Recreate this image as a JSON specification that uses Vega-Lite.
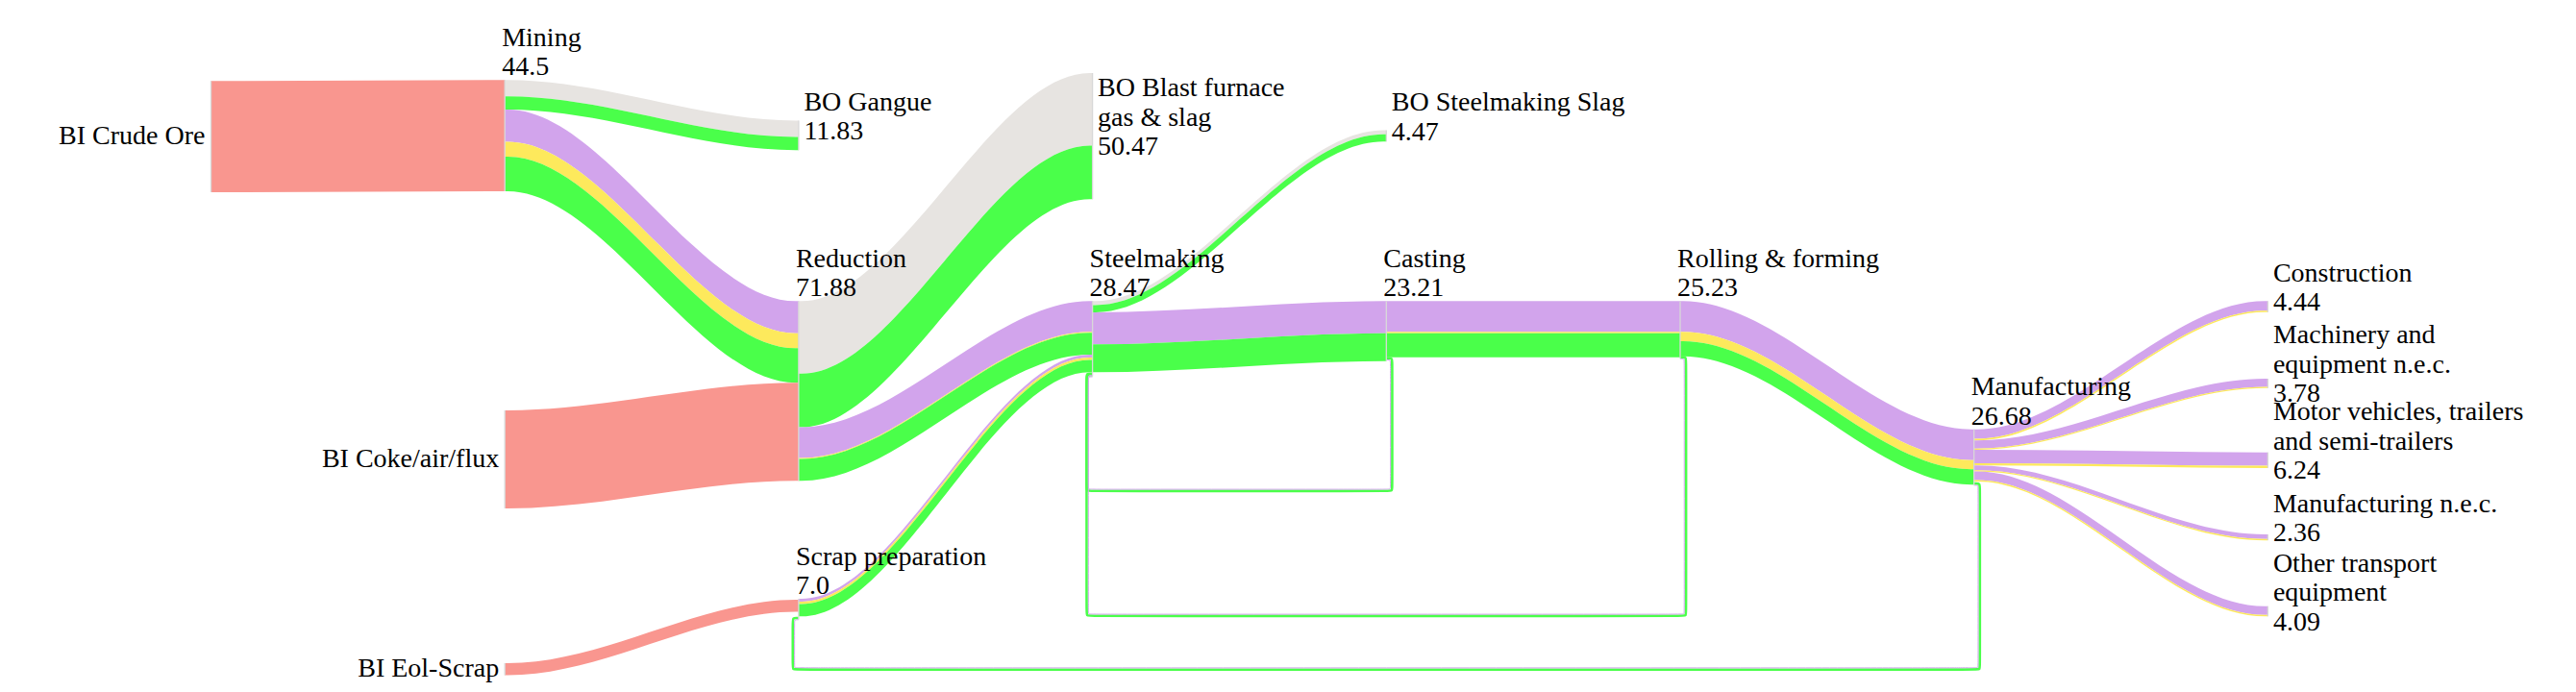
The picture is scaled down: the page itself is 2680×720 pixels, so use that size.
{
  "$schema": "https://vega.github.io/schema/vega-lite/v6.json",
  "width": 2680,
  "height": 720,
  "autosize": {"type": "fit", "contains": "padding"},
  "padding": 0,
  "background": "white",
  "config": {"view": {"stroke": null}},
  "datasets": {
    "links": [
      {"id": "L01", "source": "BI Crude Ore", "target": "Mining", "m": "input", "v": 44.5, "c0": 0, "c1": 1, "y0": 32.42, "y1": 32.04},
      {"id": "L02", "source": "Mining", "target": "BO Gangue", "m": "residue", "v": 6.5, "c0": 1, "c1": 2, "y0": 32.04, "y1": 48.27},
      {"id": "L03", "source": "Mining", "target": "BO Gangue", "m": "iron", "v": 5.33, "c0": 1, "c1": 2, "y0": 38.54, "y1": 54.77},
      {"id": "L04", "source": "Mining", "target": "Reduction", "m": "steel", "v": 12.85, "c0": 1, "c1": 2, "y0": 43.87, "y1": 120.5},
      {"id": "L05", "source": "Mining", "target": "Reduction", "m": "alloy", "v": 6.0, "c0": 1, "c1": 2, "y0": 56.72, "y1": 133.35},
      {"id": "L06", "source": "Mining", "target": "Reduction", "m": "iron", "v": 13.82, "c0": 1, "c1": 2, "y0": 62.72, "y1": 139.35},
      {"id": "L07", "source": "BI Coke/air/flux", "target": "Reduction", "m": "input", "v": 39.21, "c0": 1, "c1": 2, "y0": 164.23, "y1": 153.17},
      {"id": "L08", "source": "BI Eol-Scrap", "target": "Scrap preparation", "m": "input", "v": 4.8, "c0": 1, "c1": 2, "y0": 265.38, "y1": 240.0},
      {"id": "L09", "source": "Reduction", "target": "BO Blast furnace gas & slag", "m": "residue", "v": 29.04, "c0": 2, "c1": 3, "y0": 120.5, "y1": 29.23},
      {"id": "L10", "source": "Reduction", "target": "BO Blast furnace gas & slag", "m": "iron", "v": 21.43, "c0": 2, "c1": 3, "y0": 149.54, "y1": 58.27},
      {"id": "L11", "source": "Reduction", "target": "Steelmaking", "m": "steel", "v": 12.3, "c0": 2, "c1": 3, "y0": 170.97, "y1": 120.5},
      {"id": "L12", "source": "Reduction", "target": "Steelmaking", "m": "alloy", "v": 0.35, "c0": 2, "c1": 3, "y0": 183.27, "y1": 132.8},
      {"id": "L13", "source": "Reduction", "target": "Steelmaking", "m": "iron", "v": 8.76, "c0": 2, "c1": 3, "y0": 183.62, "y1": 133.15},
      {"id": "L14", "source": "Scrap preparation", "target": "Steelmaking", "m": "steel", "v": 1.15, "c0": 2, "c1": 3, "y0": 239.62, "y1": 141.91},
      {"id": "L15", "source": "Scrap preparation", "target": "Steelmaking", "m": "alloy", "v": 0.95, "c0": 2, "c1": 3, "y0": 240.77, "y1": 143.06},
      {"id": "L16", "source": "Scrap preparation", "target": "Steelmaking", "m": "iron", "v": 4.96, "c0": 2, "c1": 3, "y0": 241.72, "y1": 144.01},
      {"id": "L17", "source": "Steelmaking", "target": "BO Steelmaking Slag", "m": "residue", "v": 1.6, "c0": 3, "c1": 4, "y0": 120.5, "y1": 52.12},
      {"id": "L18", "source": "Steelmaking", "target": "BO Steelmaking Slag", "m": "iron", "v": 2.87, "c0": 3, "c1": 4, "y0": 122.1, "y1": 53.72},
      {"id": "L19", "source": "Steelmaking", "target": "Casting", "m": "steel", "v": 12.85, "c0": 3, "c1": 4, "y0": 124.97, "y1": 120.5},
      {"id": "L20", "source": "Steelmaking", "target": "Casting", "m": "iron", "v": 11.15, "c0": 3, "c1": 4, "y0": 137.82, "y1": 133.35},
      {"id": "L21", "source": "Casting", "target": "Rolling & forming", "m": "steel", "v": 12.3, "c0": 4, "c1": 5, "y0": 120.5, "y1": 120.5},
      {"id": "L22", "source": "Casting", "target": "Rolling & forming", "m": "alloy", "v": 0.6, "c0": 4, "c1": 5, "y0": 132.8, "y1": 132.8},
      {"id": "L23", "source": "Casting", "target": "Rolling & forming", "m": "iron", "v": 9.6, "c0": 4, "c1": 5, "y0": 133.4, "y1": 133.4},
      {"id": "L24", "source": "Rolling & forming", "target": "Manufacturing", "m": "steel", "v": 12.3, "c0": 5, "c1": 6, "y0": 120.5, "y1": 171.81},
      {"id": "L25", "source": "Rolling & forming", "target": "Manufacturing", "m": "alloy", "v": 3.7, "c0": 5, "c1": 6, "y0": 132.8, "y1": 184.11},
      {"id": "L26", "source": "Rolling & forming", "target": "Manufacturing", "m": "iron", "v": 6.1, "c0": 5, "c1": 6, "y0": 136.5, "y1": 187.81},
      {"id": "L27", "source": "Manufacturing", "target": "Construction", "m": "steel", "v": 3.79, "c0": 6, "c1": 7, "y0": 171.81, "y1": 120.5},
      {"id": "L28", "source": "Manufacturing", "target": "Construction", "m": "alloy", "v": 0.65, "c0": 6, "c1": 7, "y0": 175.6, "y1": 124.29},
      {"id": "L29", "source": "Manufacturing", "target": "Machinery and equipment n.e.c.", "m": "steel", "v": 3.23, "c0": 6, "c1": 7, "y0": 176.25, "y1": 151.54},
      {"id": "L30", "source": "Manufacturing", "target": "Machinery and equipment n.e.c.", "m": "alloy", "v": 0.55, "c0": 6, "c1": 7, "y0": 179.48, "y1": 154.77},
      {"id": "L31", "source": "Manufacturing", "target": "Motor vehicles, trailers and semi-trailers", "m": "steel", "v": 5.34, "c0": 6, "c1": 7, "y0": 180.03, "y1": 181.04},
      {"id": "L32", "source": "Manufacturing", "target": "Motor vehicles, trailers and semi-trailers", "m": "alloy", "v": 0.9, "c0": 6, "c1": 7, "y0": 185.37, "y1": 186.38},
      {"id": "L33", "source": "Manufacturing", "target": "Manufacturing n.e.c.", "m": "steel", "v": 1.86, "c0": 6, "c1": 7, "y0": 186.27, "y1": 213.85},
      {"id": "L34", "source": "Manufacturing", "target": "Manufacturing n.e.c.", "m": "alloy", "v": 0.5, "c0": 6, "c1": 7, "y0": 188.13, "y1": 215.71},
      {"id": "L35", "source": "Manufacturing", "target": "Other transport equipment", "m": "steel", "v": 3.49, "c0": 6, "c1": 7, "y0": 188.63, "y1": 242.58},
      {"id": "L36", "source": "Manufacturing", "target": "Other transport equipment", "m": "alloy", "v": 0.6, "c0": 6, "c1": 7, "y0": 192.12, "y1": 246.07}
    ],
    "loops": [
      {"id": "R1", "source": "Casting", "target": "Steelmaking", "c0": 4, "c1": 3, "y0": 143.35, "yb": 196.5, "y1": 149.5},
      {"id": "R2", "source": "Rolling & forming", "target": "Steelmaking", "c0": 5, "c1": 3, "y0": 142.95, "yb": 246.5, "y1": 150.1},
      {"id": "R3", "source": "Manufacturing", "target": "Scrap preparation", "c0": 6, "c1": 2, "y0": 193.5, "yb": 267.96, "y1": 247.3}
    ],
    "nodes": [
      {"name": "BI Crude Ore", "c": 0, "top": 32.42, "bot": 76.92},
      {"name": "Mining", "c": 1, "top": 32.04, "bot": 76.54},
      {"name": "BI Coke/air/flux", "c": 1, "top": 164.23, "bot": 203.44},
      {"name": "BI Eol-Scrap", "c": 1, "top": 265.38, "bot": 270.18},
      {"name": "BO Gangue", "c": 2, "top": 48.27, "bot": 60.1},
      {"name": "Reduction", "c": 2, "top": 120.5, "bot": 192.38},
      {"name": "Scrap preparation", "c": 2, "top": 239.62, "bot": 247.9},
      {"name": "BO Blast furnace gas & slag", "c": 3, "top": 29.23, "bot": 79.7},
      {"name": "Steelmaking", "c": 3, "top": 120.5, "bot": 150.6},
      {"name": "BO Steelmaking Slag", "c": 4, "top": 52.12, "bot": 56.59},
      {"name": "Casting", "c": 4, "top": 120.5, "bot": 144.5},
      {"name": "Rolling & forming", "c": 5, "top": 120.5, "bot": 143.6},
      {"name": "Manufacturing", "c": 6, "top": 171.81, "bot": 194.2},
      {"name": "Construction", "c": 7, "top": 120.5, "bot": 124.94},
      {"name": "Machinery and equipment n.e.c.", "c": 7, "top": 151.54, "bot": 155.32},
      {"name": "Motor vehicles, trailers and semi-trailers", "c": 7, "top": 181.04, "bot": 187.28},
      {"name": "Manufacturing n.e.c.", "c": 7, "top": 213.85, "bot": 216.21},
      {"name": "Other transport equipment", "c": 7, "top": 242.58, "bot": 246.67}
    ],
    "labels": [
      {"label": "BI Crude Ore", "kind": "source", "c": 0, "y": 54.67},
      {"label": "BI Coke/air/flux", "kind": "source", "c": 1, "y": 183.84},
      {"label": "BI Eol-Scrap", "kind": "source", "c": 1, "y": 267.78},
      {"label": "Mining\n44.5", "kind": "stage", "c": 1, "y": 32.04},
      {"label": "Reduction\n71.88", "kind": "stage", "c": 2, "y": 120.5},
      {"label": "Scrap preparation\n7.0", "kind": "stage", "c": 2, "y": 239.62},
      {"label": "Steelmaking\n28.47", "kind": "stage", "c": 3, "y": 120.5},
      {"label": "Casting\n23.21", "kind": "stage", "c": 4, "y": 120.5},
      {"label": "Rolling & forming\n25.23", "kind": "stage", "c": 5, "y": 120.5},
      {"label": "Manufacturing\n26.68", "kind": "stage", "c": 6, "y": 171.81},
      {"label": "BO Gangue\n11.83", "kind": "sink", "c": 2, "y": 54.19},
      {"label": "BO Blast furnace\ngas & slag\n50.47", "kind": "sink", "c": 3, "y": 54.47},
      {"label": "BO Steelmaking Slag\n4.47", "kind": "sink", "c": 4, "y": 54.36},
      {"label": "Construction\n4.44", "kind": "sink", "c": 7, "y": 122.72},
      {"label": "Machinery and\nequipment n.e.c.\n3.78", "kind": "sink", "c": 7, "y": 153.43},
      {"label": "Motor vehicles, trailers\nand semi-trailers\n6.24", "kind": "sink", "c": 7, "y": 184.16},
      {"label": "Manufacturing n.e.c.\n2.36", "kind": "sink", "c": 7, "y": 215.03},
      {"label": "Other transport\nequipment\n4.09", "kind": "sink", "c": 7, "y": 244.63}
    ]
  },
  "layer": [
    {
      "data": {"name": "links"},
      "transform": [
        {"calculate": "[0, 1, 2, 3]", "as": "k"},
        {"flatten": ["k"]},
        {"calculate": "datum.k == 0 ? datum.c0 : datum.k == 1 ? datum.c0 + 0.01 : datum.k == 2 ? datum.c1 - 0.01 : datum.c1", "as": "px"},
        {"calculate": "datum.k < 2 ? datum.y0 : datum.y1", "as": "py"},
        {"calculate": "datum.py + datum.v", "as": "pb"}
      ],
      "mark": {"type": "area", "interpolate": "monotone", "orient": "vertical", "opacity": 1},
      "encoding": {
        "x": {"field": "px", "type": "quantitative", "scale": {"domain": [-0.71802, 8.04874], "nice": false, "zero": false}, "axis": null},
        "y": {"field": "py", "type": "quantitative", "stack": null, "scale": {"domain": [0, 276.923], "nice": false, "zero": false, "reverse": true}, "axis": null},
        "y2": {"field": "pb"},
        "color": {"field": "m", "type": "nominal", "scale": {"domain": ["input", "residue", "iron", "steel", "alloy"], "range": ["#f9968f", "#e7e4e1", "#4aff4a", "#d2a4ec", "#fde95c"]}, "legend": null},
        "detail": {"field": "id"}
      }
    },
    {
      "data": {"name": "loops"},
      "transform": [
        {"calculate": "[0,1,2,3,4,5,6,7,8,9,10,11,12,13]", "as": "k"},
        {"calculate": "[datum.c0, datum.c0+0.007, datum.c0+0.02, datum.c0+0.02, datum.c0+0.02, datum.c0+0.02, datum.c0+0.007, datum.c1-0.007, datum.c1-0.02, datum.c1-0.02, datum.c1-0.02, datum.c1-0.02, datum.c1-0.007, datum.c1]", "as": "px"},
        {"calculate": "[datum.y0, datum.y0, datum.y0, datum.y0+1.6, datum.yb-1.6, datum.yb, datum.yb, datum.yb, datum.yb, datum.yb-1.6, datum.y1+1.6, datum.y1, datum.y1, datum.y1]", "as": "py"},
        {"flatten": ["k", "px", "py"]}
      ],
      "mark": {"type": "line", "color": "#4aff4a", "strokeWidth": 2.6, "strokeJoin": "round", "interpolate": "basis"},
      "encoding": {
        "x": {"field": "px", "type": "quantitative", "axis": null},
        "y": {"field": "py", "type": "quantitative", "axis": null},
        "detail": {"field": "id"},
        "order": {"field": "k", "type": "quantitative"}
      }
    },
    {
      "data": {"name": "loops"},
      "transform": [
        {"calculate": "[0,1,2,3,4,5,6,7,8,9,10,11,12,13]", "as": "k"},
        {"calculate": "[datum.c0, datum.c0+0.004, datum.c0+0.014, datum.c0+0.014, datum.c0+0.014, datum.c0+0.014, datum.c0+0.004, datum.c1-0.004, datum.c1-0.014, datum.c1-0.014, datum.c1-0.014, datum.c1-0.014, datum.c1-0.004, datum.c1]", "as": "px"},
        {"calculate": "[datum.y0+0.69, datum.y0+0.69, datum.y0+0.69, datum.y0+1.9, datum.yb-1.9, datum.yb-0.69, datum.yb-0.69, datum.yb-0.69, datum.yb-0.69, datum.yb-1.9, datum.y1+1.9, datum.y1+0.69, datum.y1+0.69, datum.y1+0.69]", "as": "py"},
        {"flatten": ["k", "px", "py"]}
      ],
      "mark": {"type": "line", "color": "#d2a4ec", "strokeWidth": 1, "strokeJoin": "round", "interpolate": "basis"},
      "encoding": {
        "x": {"field": "px", "type": "quantitative", "axis": null},
        "y": {"field": "py", "type": "quantitative", "axis": null},
        "detail": {"field": "id"},
        "order": {"field": "k", "type": "quantitative"}
      }
    },
    {
      "data": {"name": "nodes"},
      "mark": {"type": "rule", "color": "#d8d8d8", "strokeWidth": 1.3},
      "encoding": {
        "x": {"field": "c", "type": "quantitative", "axis": null},
        "y": {"field": "top", "type": "quantitative", "axis": null},
        "y2": {"field": "bot"}
      }
    },
    {
      "data": {"name": "labels"},
      "transform": [{"filter": "datum.kind == 'stage'"}],
      "mark": {"type": "text", "align": "left", "baseline": "bottom", "dx": -3, "dy": -29.5, "font": "Liberation Serif, Times New Roman, serif", "fontSize": 28, "lineHeight": 30.5, "lineBreak": "\n", "color": "#000000"},
      "encoding": {
        "x": {"field": "c", "type": "quantitative", "axis": null},
        "y": {"field": "y", "type": "quantitative", "axis": null},
        "text": {"field": "label", "type": "nominal"}
      }
    },
    {
      "data": {"name": "labels"},
      "transform": [{"filter": "datum.kind == 'sink' && split(datum.label, '\\n').length == 2"}],
      "mark": {"type": "text", "align": "left", "baseline": "middle", "dx": 5.5, "dy": -34.25, "font": "Liberation Serif, Times New Roman, serif", "fontSize": 28, "lineHeight": 30.5, "lineBreak": "\n", "color": "#000000"},
      "encoding": {
        "x": {"field": "c", "type": "quantitative", "axis": null},
        "y": {"field": "y", "type": "quantitative", "axis": null},
        "text": {"field": "label", "type": "nominal"}
      }
    },
    {
      "data": {"name": "labels"},
      "transform": [{"filter": "datum.kind == 'sink' && split(datum.label, '\\n').length == 3"}],
      "mark": {"type": "text", "align": "left", "baseline": "middle", "dx": 5.5, "dy": -49.5, "font": "Liberation Serif, Times New Roman, serif", "fontSize": 28, "lineHeight": 30.5, "lineBreak": "\n", "color": "#000000"},
      "encoding": {
        "x": {"field": "c", "type": "quantitative", "axis": null},
        "y": {"field": "y", "type": "quantitative", "axis": null},
        "text": {"field": "label", "type": "nominal"}
      }
    },
    {
      "data": {"name": "labels"},
      "transform": [{"filter": "datum.kind == 'source'"}],
      "mark": {"type": "text", "align": "right", "baseline": "middle", "dx": -6, "font": "Liberation Serif, Times New Roman, serif", "fontSize": 28, "color": "#000000"},
      "encoding": {
        "x": {"field": "c", "type": "quantitative", "axis": null},
        "y": {"field": "y", "type": "quantitative", "axis": null},
        "text": {"field": "label", "type": "nominal"}
      }
    }
  ]
}
